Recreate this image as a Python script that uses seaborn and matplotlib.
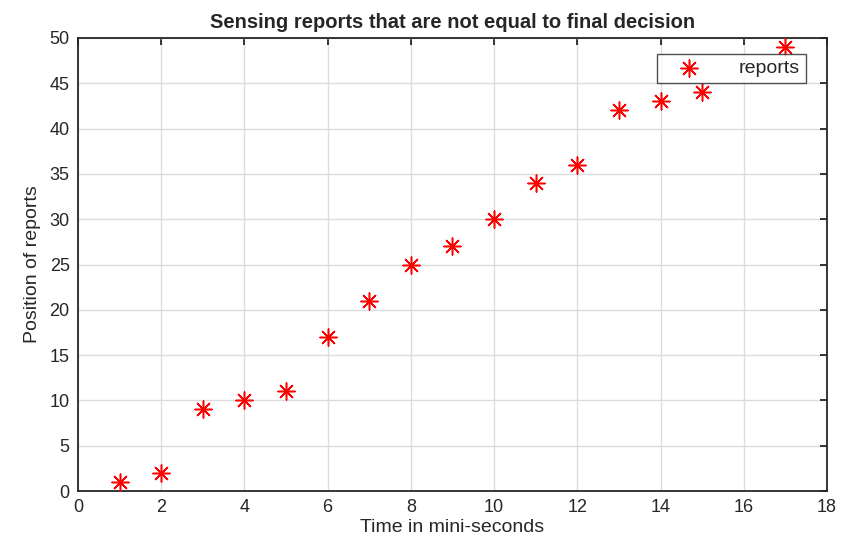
import matplotlib.pyplot as plt
import seaborn as sns
import pandas as pd

# values
time_ms = [1, 2, 3, 4, 5, 6, 7, 8, 9, 10, 11, 12, 13, 14, 15, 17]
positions = [1, 2, 9, 10, 11, 17, 21, 25, 27, 30, 34, 36, 42, 43, 44, 49]
x_ticks = [0, 2, 4, 6, 8, 10, 12, 14, 16, 18]
y_ticks = [0, 5, 10, 15, 20, 25, 30, 35, 40, 45, 50]

df = pd.DataFrame({"time": time_ms, "pos": positions})

sns.set_style("white")
plt.rcParams['font.family'] = ['Liberation Sans', 'DejaVu Sans']

fig = plt.figure(figsize=(8.41, 5.46), dpi=100)
ax = fig.add_axes([78 / 841, 1 - 491 / 546, (827 - 78) / 841, (491 - 38) / 546])

sns.scatterplot(data=df, x="time", y="pos", ax=ax, marker=(8, 2, 0),
                s=150, color="#ff0000", edgecolor="#ff0000", linewidth=1.1,
                label="reports", zorder=3)

ax.set_xlim(0, 18)
ax.set_ylim(0, 50)
ax.set_xticks(x_ticks)
ax.set_yticks(y_ticks)
ax.grid(True, color="#dcdcdc", linewidth=1)
ax.set_axisbelow(True)
for s in ax.spines.values():
    s.set_color("#262626")
    s.set_linewidth(1.3)
ax.tick_params(axis="both", direction="in", length=5, width=1.3,
               colors="#262626", labelsize=13, top=True, right=True,
               pad=6)
for lab in ax.get_xticklabels() + ax.get_yticklabels():
    lab.set_color("#262626")

ax.set_xlabel("Time in mini-seconds", fontsize=14, color="#262626", labelpad=2)
ax.set_ylabel("Position of reports", fontsize=14, color="#262626", labelpad=6)
ax.set_title("Sensing reports that are not equal to final decision",
             fontsize=14.5, fontweight="bold", pad=7)

leg = ax.legend(loc="upper right", bbox_to_anchor=(0.972, 0.965),
                borderaxespad=0, fontsize=14, frameon=True, fancybox=False,
                borderpad=0.3, handletextpad=1.3, handlelength=2.6,
                markerscale=1.0)
leg.get_frame().set_edgecolor("#262626")
leg.get_frame().set_linewidth(1.0)

fig.savefig("out.png", dpi=100)
